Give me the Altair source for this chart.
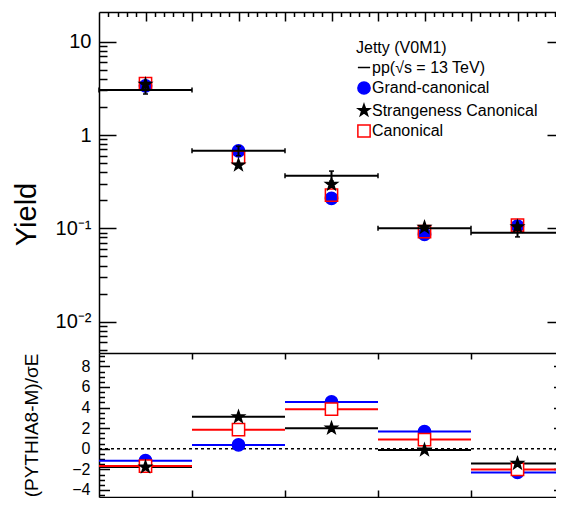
import altair as alt
import pandas as pd

FONT = "Liberation Sans"

# ---------------- data ----------------
bin_lo = [0, 1, 2, 3, 4]
bin_hi = [1, 2, 3, 4, 5]
bin_ctr = [0.5, 1.5, 2.5, 3.5, 4.5]

# top panel: yields
pp_yield = [3.03, 0.68, 0.366, 0.100, 0.090]
pp_err = [0.28, 0.08, 0.045, 0.005, 0.009]
gc_yield = [3.37, 0.675, 0.21, 0.086, 0.106]
sc_yield = [3.49, 0.477, 0.296, 0.1025, 0.104]
c_yield = [3.55, 0.577, 0.2275, 0.092, 0.108]

# bottom panel: (PYTHIA8-M)/sigma_E
gc_dev = [-1.15, 0.38, 4.55, 1.67, -2.30]
sc_dev = [-1.77, 3.10, 2.00, -0.12, -1.42]
c_dev = [-1.68, 1.85, 3.85, 0.90, -2.01]

zero_line = [0]

models = ["pp(√s = 13 TeV)", "Grand-canonical", "Strangeness Canonical", "Canonical"]

top_ticks = [0.01, 0.1, 1, 10]
top_tick_labels = ["10⁻²", "10⁻¹", "1", "10"]
bot_ticks = [-4, -2, 0, 2, 4, 6, 8]

# ---------------- tables ----------------
df_pp = pd.DataFrame({"lo": bin_lo, "hi": bin_hi, "ctr": bin_ctr, "val": pp_yield, "err": pp_err})

rows = []
for i in range(5):
    rows.append({"ctr": bin_ctr[i], "val": gc_yield[i], "model": models[1]})
    rows.append({"ctr": bin_ctr[i], "val": c_yield[i], "model": models[3]})
    rows.append({"ctr": bin_ctr[i], "val": sc_yield[i], "model": models[2]})
df_top_pts = pd.DataFrame(rows)

rows = []
for i in range(5):
    rows.append({"lo": bin_lo[i], "hi": bin_hi[i], "val": sc_dev[i], "model": models[2]})
    rows.append({"lo": bin_lo[i], "hi": bin_hi[i], "val": c_dev[i], "model": models[3]})
    rows.append({"lo": bin_lo[i], "hi": bin_hi[i], "val": gc_dev[i], "model": models[1]})
df_bot_lines = pd.DataFrame(rows)

rows = []
for i in range(5):
    rows.append({"ctr": bin_ctr[i], "val": gc_dev[i], "model": models[1]})
    rows.append({"ctr": bin_ctr[i], "val": c_dev[i], "model": models[3]})
    rows.append({"ctr": bin_ctr[i], "val": sc_dev[i], "model": models[2]})
df_bot_pts = pd.DataFrame(rows)

df_zero = pd.DataFrame({"v": zero_line})

# ---------------- scales ----------------
VIEW_W = 457          # visible part (page is cropped on the right like the reference)
RANGE_W = 465         # full frame width
H = 485
TOP_H = 341
TOP_DOM = [0.00462, 20.8]
BOT_DOM = [-4.68, 9.30]
STAR = ("M0,-1L0.235,-0.324L0.951,-0.309L0.38,0.124L0.588,0.809L0,0.4"
        "L-0.588,0.809L-0.38,0.124L-0.951,-0.309L-0.235,-0.324Z")

x_scale = alt.Scale(domain=[0, 5], range=[0, RANGE_W], nice=False, zero=False)
top_scale = alt.Scale(type="log", domain=TOP_DOM, range=[TOP_H, 0], nice=False)
bot_scale = alt.Scale(domain=BOT_DOM, range=[H, TOP_H], nice=False, zero=False)
shape_scale = alt.Scale(domain=models, range=["stroke", "circle", STAR, "square"])
fill_scale = alt.Scale(domain=models, range=["black", "#0000ff", "black", "transparent"])
stroke_scale = alt.Scale(domain=models, range=["black", "#0000ff", "black", "#ff0000"])

# ---------------- axes ----------------
def tick_axis(orient, offset, values, size, domain=False):
    return alt.Axis(orient=orient, offset=offset, values=values, tickSize=size,
                    ticks=True, labels=False, domain=domain, domainColor="black",
                    domainWidth=1.5, grid=False, title=None,
                    tickColor="black", tickWidth=1.5)

top_minor = [round(m * d, 6) for d in (0.001, 0.01, 0.1, 1) for m in range(2, 10)
             if TOP_DOM[0] <= m * d <= TOP_DOM[1]]
bot_minor = [v / 2 for v in range(-9, 19) if v % 4 != 0 and BOT_DOM[0] < v / 2 < BOT_DOM[1]]
x_major_top = [0.5 * i for i in range(1, 10)]
x_minor_top = [round(0.1 * i, 1) for i in range(1, 50) if i % 5 != 0]
x_edges = [1, 2, 3, 4]

parts = [f"datum.value < {t * 3} ? '{lab}' : " for t, lab in zip(top_ticks[:-1], top_tick_labels[:-1])]
top_expr = "".join(parts) + f"'{top_tick_labels[-1]}'"

top_label_axis = alt.Axis(orient="left", values=top_ticks, labelExpr=top_expr, ticks=False,
                          tickSize=0, domain=False, grid=False, labelPadding=8,
                          labelFontSize=20, labelFont=FONT, labelColor="black",
                          title="Yield", titleFontSize=29, titleFont=FONT,
                          titleFontWeight="normal", titleColor="black", titleAngle=270,
                          titleX=-64, titleY=202, titleAlign="center",
                          titleBaseline="alphabetic")

bot_label_axis = alt.Axis(orient="left", values=bot_ticks, format="d", ticks=False,
                          tickSize=0, domain=False, grid=False, labelPadding=9,
                          labelFontSize=16, labelFont=FONT, labelColor="black",
                          title="(PYTHIA8-M)/σE", titleFontSize=19, titleFont=FONT,
                          titleFontWeight="normal", titleColor="black", titleAngle=270,
                          titleX=-62, titleY=413, titleAlign="center",
                          titleBaseline="alphabetic")

legend = alt.Legend(title="Jetty (V0M1)", orient="none", legendX=257, legendY=28,
                    titleFontSize=16, titleFontWeight="normal", titleFont=FONT,
                    titleColor="black", labelFont=FONT, labelFontSize=16,
                    labelColor="black", labelLimit=400, titlePadding=3.5, rowPadding=2.5,
                    labelOffset=0, symbolStrokeWidth=1.5, symbolSize=150)

# ---------------- top panel layers ----------------
t_pts = alt.Chart(df_top_pts).mark_point(filled=True, opacity=1, size=150, strokeWidth=1.5).encode(
    x=alt.X("ctr:Q", scale=x_scale, axis=tick_axis("bottom", -H, x_major_top, 9, domain=True)),
    y=alt.Y("val:Q", scale=top_scale, axis=top_label_axis),
    shape=alt.Shape("model:N", scale=shape_scale, legend=legend),
    fill=alt.Fill("model:N", scale=fill_scale, legend=legend),
    stroke=alt.Stroke("model:N", scale=stroke_scale, legend=legend),
)

t_hline = alt.Chart(df_pp).mark_rule(color="black", strokeWidth=2).encode(
    x=alt.X("lo:Q", scale=x_scale, axis=tick_axis("bottom", -H, x_minor_top, 4.5)),
    x2="hi:Q",
    y=alt.Y("val:Q", scale=top_scale, axis=tick_axis("right", -VIEW_W, top_ticks, 17, domain=True)),
)

t_caps = alt.Chart(df_pp).transform_fold(["lo", "hi"], as_=["side", "edge"]).mark_tick(
    orient="vertical", size=5, thickness=1.5, color="black", opacity=1).encode(
    x=alt.X("edge:Q", scale=x_scale, axis=tick_axis("bottom", TOP_H - H, x_edges, 6, domain=True)),
    y=alt.Y("val:Q", scale=top_scale, axis=tick_axis("right", -VIEW_W, top_minor, 8)),
)

t_err = alt.Chart(df_pp).transform_calculate(
    lo_e="datum.val - datum.err", hi_e="datum.val + datum.err").mark_rule(
    color="black", strokeWidth=2).encode(
    x=alt.X("ctr:Q", scale=x_scale, axis=tick_axis("top", -H, x_edges, 7, domain=True)),
    y=alt.Y("lo_e:Q", scale=top_scale, axis=tick_axis("left", -RANGE_W, top_ticks, 17, domain=True)),
    y2="hi_e:Q",
)

t_errcaps = alt.Chart(df_pp).transform_calculate(
    lo_e="datum.val - datum.err", hi_e="datum.val + datum.err").transform_fold(
    ["lo_e", "hi_e"], as_=["side", "yv"]).mark_tick(
    orient="horizontal", size=5, thickness=1.5, color="black", opacity=1).encode(
    x=alt.X("ctr:Q", scale=x_scale, axis=None),
    y=alt.Y("yv:Q", scale=top_scale, axis=tick_axis("left", -RANGE_W, top_minor, 8)),
)

# ---------------- bottom panel layers ----------------
b_zero = alt.Chart(df_zero).mark_rule(color="black", strokeWidth=1.5, strokeDash=[3, 3]).encode(
    x=alt.value(0), x2=alt.value(RANGE_W),
    y=alt.Y("v:Q", scale=bot_scale, axis=bot_label_axis),
)

b_lines = alt.Chart(df_bot_lines).mark_rule(strokeWidth=2).encode(
    x=alt.X("lo:Q", scale=x_scale, axis=None),
    x2="hi:Q",
    y=alt.Y("val:Q", scale=bot_scale, axis=tick_axis("right", -VIEW_W, bot_ticks, 10.5, domain=True)),
    stroke=alt.Stroke("model:N", scale=stroke_scale, legend=None),
)

b_pts = alt.Chart(df_bot_pts).mark_point(filled=True, opacity=1, size=150, strokeWidth=1.5).encode(
    x=alt.X("ctr:Q", scale=x_scale, axis=None),
    y=alt.Y("val:Q", scale=bot_scale, axis=tick_axis("right", -VIEW_W, bot_minor, 5.5)),
    shape=alt.Shape("model:N", scale=shape_scale, legend=None),
    stroke=alt.Stroke("model:N", scale=stroke_scale, legend=None),
    fill=alt.condition(alt.datum.model == "Canonical", alt.value("white"),
                       alt.Fill("model:N", scale=fill_scale, legend=None)),
)

b_carrier1 = alt.Chart(df_zero).mark_rule(opacity=0).encode(
    y=alt.Y("v:Q", scale=bot_scale, axis=tick_axis("left", -RANGE_W, bot_ticks, 10.5, domain=True)),
)
b_carrier2 = alt.Chart(df_zero).mark_rule(opacity=0).encode(
    y=alt.Y("v:Q", scale=bot_scale, axis=tick_axis("left", -RANGE_W, bot_minor, 5.5)),
)

chart = alt.layer(
    t_pts, t_hline, t_caps, t_err, t_errcaps,
    b_zero, b_lines, b_pts, b_carrier1, b_carrier2,
).resolve_scale(y="independent").resolve_axis(x="independent", y="independent").properties(
    width=VIEW_W, height=H,
    padding={"left": 91, "top": 4, "right": 0, "bottom": 1},
    autosize=alt.AutoSizeParams(type="none"),
).configure_view(stroke="transparent").configure_axis(
    grid=False, labelFlush=False, labelFont=FONT, titleFont=FONT
).configure(font=FONT)

chart.save("out.html", embed_options={"renderer": "svg", "actions": False})
